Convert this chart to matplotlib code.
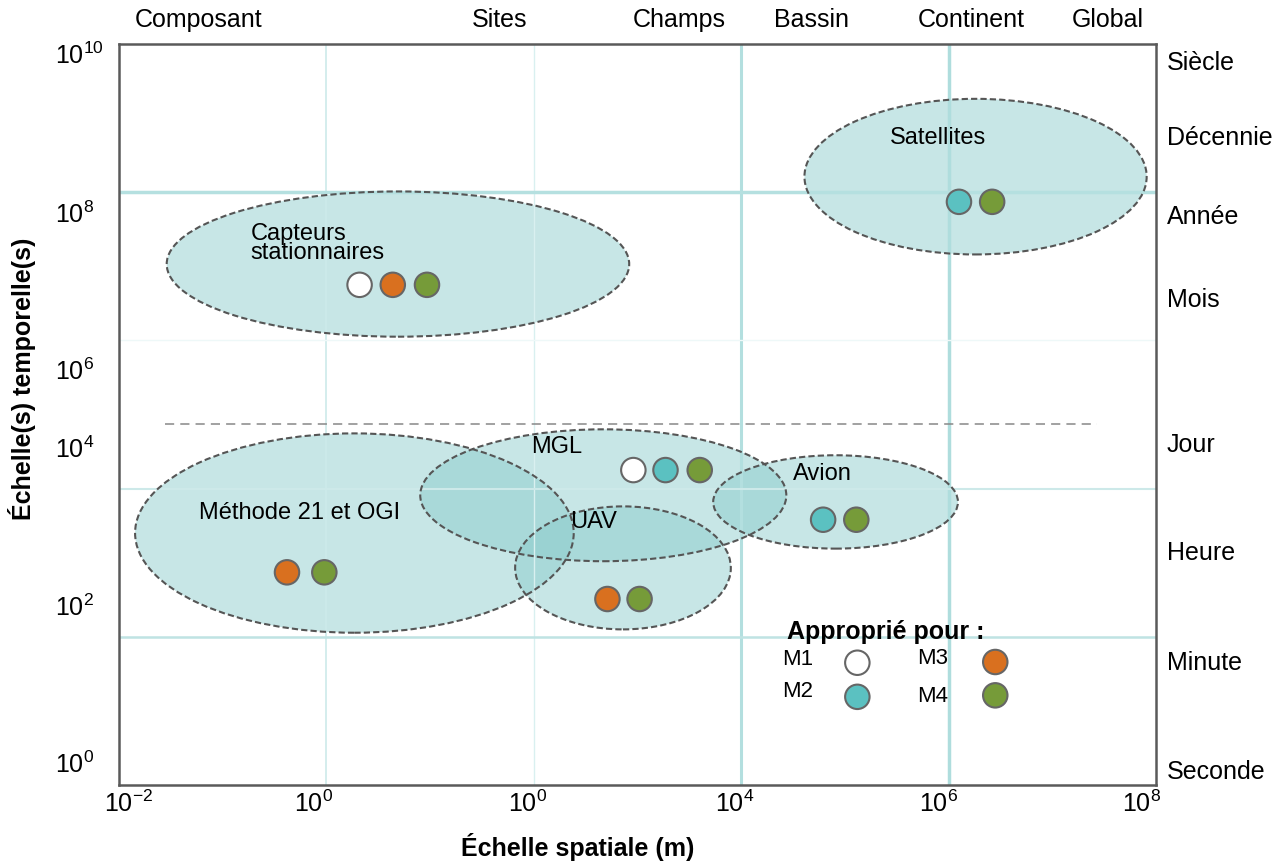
import matplotlib.pyplot as plt
from matplotlib.patches import Ellipse

plt.rcParams['font.family'] = ['Liberation Sans', 'DejaVu Sans']
plt.rcParams['mathtext.fontset'] = 'custom'
plt.rcParams['mathtext.rm'] = 'Liberation Sans'
plt.rcParams['mathtext.it'] = 'Liberation Sans:italic'
plt.rcParams['mathtext.bf'] = 'Liberation Sans:bold'

# axes are in decades: x = log10(m), y = log10(s) as drawn
zones = ['Capteurs\nstationnaires', 'Satellites', 'Méthode 21 et OGI', 'MGL', 'UAV', 'Avion']
zone_x = [0.69, 6.26, 0.27, 2.67, 2.86, 4.91]
zone_y = [7.03, 8.21, 3.40, 3.91, 2.93, 3.82]
zone_w = [4.46, 3.30, 4.23, 3.53, 2.08, 2.36]
zone_h = [1.96, 2.10, 2.69, 1.78, 1.66, 1.26]
label_x = [-0.73, 5.90, -1.23, 2.22, 2.58, 4.78]
label_y = [7.31, 8.73, 3.67, 4.56, 3.55, 4.20]
label_ha = ['left', 'center', 'left', 'center', 'center', 'center']

# suitability dots (method 1..4)
dot_x = [0.32, 0.64, 0.97, 6.10, 6.42, -0.38, -0.02, 2.96, 3.27, 3.60, 2.71, 3.02, 4.79, 5.11]
dot_y = [6.75, 6.75, 6.75, 7.87, 7.87, 2.87, 2.87, 4.25, 4.25, 4.25, 2.51, 2.51, 3.58, 3.58]
dot_m = [1, 3, 4, 2, 4, 3, 4, 1, 2, 4, 3, 4, 2, 4]
method_colors = {1: '#ffffff', 2: '#5bc1c1', 3: '#d9701f', 4: '#769b39'}

# scale names
space_names = ['Composant', 'Sites', 'Champs', 'Bassin', 'Continent', 'Global']
space_pos = [-1.23, 1.67, 3.40, 4.68, 6.22, 7.53]
time_names = ['Siècle', 'Décennie', 'Année', 'Mois', 'Jour', 'Heure', 'Minute', 'Seconde']
time_pos = [9.74, 8.73, 7.67, 6.55, 4.59, 3.13, 1.65, 0.18]

xtick_pos = [-1.91, -0.12, 1.94, 3.94, 5.90, 7.86]
xtick_lab = ['$10^{-2}$', '$10^{0}$', '$10^{0}$', '$10^{4}$', '$10^{6}$', '$10^{8}$']
ytick_pos = [0.30, 2.43, 4.56, 5.61, 7.73, 9.88]
ytick_lab = ['$10^{0}$', '$10^{2}$', '$10^{4}$', '$10^{6}$', '$10^{8}$', '$10^{10}$']

fig = plt.figure(figsize=(12.88, 8.63), dpi=100)
ax = fig.add_axes([119/1288, 1-785/863, 1037/1288, 741/863])
ax.set_xlim(-2, 8)
ax.set_ylim(0, 10)

for side in ax.spines.values():
    side.set_color('#5a5a5a')
    side.set_linewidth(1.8)

# light cyan guide lines
for gx, lw, c in [(0, 1.2, '#cdeaea'), (2, 1.0, '#d9f0f0'), (4, 2.2, '#b3dfdf'), (6, 2.5, '#afdddd')]:
    ax.axvline(gx, color=c, lw=lw, zorder=2)
for gy, lw, c in [(8, 2.5, '#b5e0e0'), (6, 1.0, '#eef8f8'), (4, 1.5, '#cde9e9'), (2, 1.8, '#bfe3e3')]:
    ax.axhline(gy, color=c, lw=lw, zorder=2)

for i in range(len(zones)):
    e = Ellipse((zone_x[i], zone_y[i]), zone_w[i], zone_h[i], facecolor='#8acbcb', alpha=0.48,
                edgecolor='none', zorder=1)
    ax.add_patch(e)
    e2 = Ellipse((zone_x[i], zone_y[i]), zone_w[i], zone_h[i], facecolor='none',
                 edgecolor='#555555', lw=1.5, linestyle=(0, (3, 1.5)), zorder=3)
    ax.add_patch(e2)
    ax.text(label_x[i], label_y[i], zones[i], ha=label_ha[i], va='center', fontsize=17,
            linespacing=0.85, zorder=5)

ax.scatter(dot_x, dot_y, s=310, c=[method_colors[m] for m in dot_m], edgecolors='#666666',
           linewidths=1.5, zorder=4)

# day / year separation
ax.plot([-1.56, 7.43], [4.87, 4.87], color='#888888', lw=1.1, linestyle=(0, (6, 4)), zorder=3)

# legend
ax.text(4.44, 2.06, 'Approprié pour :', fontsize=18, fontweight='bold', va='center', zorder=5)
leg_lab = ['M1', 'M2', 'M3', 'M4']
leg_tx = [4.39, 4.39, 5.70, 5.70]
leg_ty = [1.69, 1.26, 1.71, 1.19]
leg_dx = [5.12, 5.12, 6.45, 6.45]
leg_dy = [1.65, 1.19, 1.66, 1.21]
for k in range(4):
    ax.text(leg_tx[k], leg_ty[k], leg_lab[k], fontsize=16, va='center', zorder=5)
ax.scatter(leg_dx, leg_dy, s=310, c=[method_colors[m] for m in [1, 2, 3, 4]],
           edgecolors='#666666', linewidths=1.5, zorder=4, clip_on=False)

for name, p in zip(space_names, space_pos):
    ax.text(p, 10.32, name, ha='center', va='center', fontsize=18, clip_on=False)
for name, p in zip(time_names, time_pos):
    ax.text(8.106, p, name, ha='left', va='center', fontsize=18, clip_on=False)

ax.set_xticks(xtick_pos)
ax.set_xticklabels(xtick_lab, fontsize=18)
ax.set_yticks(ytick_pos)
ax.set_yticklabels(ytick_lab, fontsize=18)
ax.tick_params(axis='both', length=0)
ax.tick_params(axis='x', pad=4)
ax.tick_params(axis='y', pad=46)
for t in ax.get_yticklabels():
    t.set_horizontalalignment('left')

fig.text(578/1288, 1-847/863, 'Échelle spatiale (m)', ha='center', va='center',
         fontsize=18, fontweight='bold')
fig.text(22/1288, 1-379/863, 'Échelle(s) temporelle(s)', ha='center', va='center',
         rotation=90, fontsize=18, fontweight='bold')

fig.savefig('out.png', dpi=100)
